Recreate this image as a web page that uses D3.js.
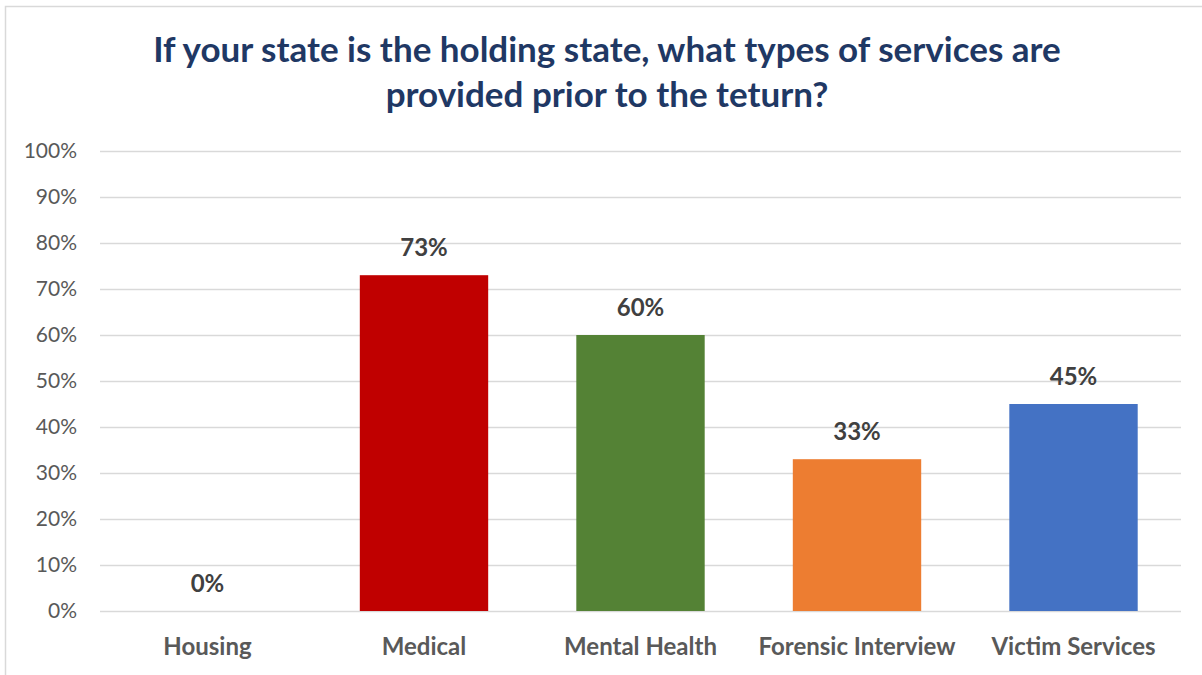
<!DOCTYPE html>
<html>
<head>
<meta charset="utf-8">
<script src="https://cdn.jsdelivr.net/npm/d3@7"></script>
<style>
  body { margin: 0; background: #fff; }
  svg { display: block; font-family: Lato, "Open Sans", sans-serif; }
</style>
</head>
<body>
<script>
// Data
const categories = ["Housing", "Medical", "Mental Health", "Forensic Interview", "Victim Services"];
const values = [0, 0.73, 0.60, 0.33, 0.45];
const barColors = ["#c00000", "#c00000", "#548235", "#ed7d31", "#4472c4"];
const yTicks = [0, 0.1, 0.2, 0.3, 0.4, 0.5, 0.6, 0.7, 0.8, 0.9, 1.0];
const titleLines = [
	"If your state is the holding state, what types of services are",
	"provided prior to the teturn?"
];

const width = 1202, height = 675;
const margin = { top: 151, right: 21, bottom: 64, left: 100 };

const svg = d3.select("body").append("svg")
	.attr("width", width)
	.attr("height", height);

// chart frame
svg.append("rect")
	.attr("x", 5.5).attr("y", 6.5)
	.attr("width", 1210).attr("height", 680)
	.attr("fill", "none")
	.attr("stroke", "#d9d9d9")
	.attr("stroke-width", 1.5);

const x = d3.scaleBand()
	.domain(categories)
	.range([margin.left, width - margin.right])
	.paddingInner(0.407)
	.paddingOuter(0.2);

const y = d3.scaleLinear()
	.domain([0, 1])
	.range([height - margin.bottom, margin.top]);

// title
svg.append("g")
	.selectAll("text")
	.data(titleLines)
	.join("text")
	.attr("x", 607)
	.attr("y", (d, i) => 62 + i * 45)
	.attr("text-anchor", "middle")
	.attr("fill", "#1f3864")
	.attr("font-size", 35)
	.attr("font-weight", "bold")
	.text(d => d);

// gridlines
svg.append("g")
	.selectAll("line")
	.data(yTicks)
	.join("line")
	.attr("x1", margin.left)
	.attr("x2", width - margin.right)
	.attr("y1", d => Math.round(y(d)) + 0.5)
	.attr("y2", d => Math.round(y(d)) + 0.5)
	.attr("stroke", "#d9d9d9")
	.attr("stroke-width", 1.5);

// y axis labels
svg.append("g")
	.selectAll("text")
	.data(yTicks)
	.join("text")
	.attr("x", 77)
	.attr("y", d => y(d))
	.attr("dy", "0.35em")
	.attr("text-anchor", "end")
	.attr("fill", "#595959")
	.attr("font-size", 21)
	.text(d => d3.format(".0%")(d));

// bars
svg.append("g")
	.selectAll("rect")
	.data(values)
	.join("rect")
	.attr("x", (d, i) => x(categories[i]))
	.attr("y", d => y(d))
	.attr("width", x.bandwidth())
	.attr("height", d => y(0) - y(d))
	.attr("fill", (d, i) => barColors[i]);

// value labels
svg.append("g")
	.selectAll("text")
	.data(values)
	.join("text")
	.attr("x", (d, i) => x(categories[i]) + x.bandwidth() / 2)
	.attr("y", d => y(d) - 19)
	.attr("text-anchor", "middle")
	.attr("fill", "#404040")
	.attr("font-size", 24)
	.attr("font-weight", "bold")
	.text(d => d3.format(".0%")(d));

// category labels
svg.append("g")
	.selectAll("text")
	.data(categories)
	.join("text")
	.attr("x", d => x(d) + x.bandwidth() / 2)
	.attr("y", 655)
	.attr("text-anchor", "middle")
	.attr("fill", "#595959")
	.attr("font-size", 24)
	.attr("font-weight", "bold")
	.text(d => d);
</script>
</body>
</html>
